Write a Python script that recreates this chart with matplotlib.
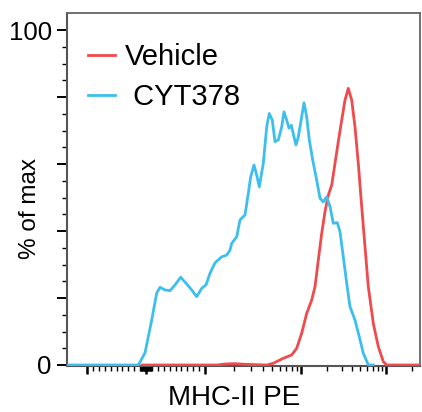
import numpy as np
import matplotlib
matplotlib.use('Agg')
import matplotlib.pyplot as plt

plt.rcParams['font.family'] = ['Liberation Sans', 'DejaVu Sans']

# ---- data (x in display channel units, y in % of max) ----
cyt_x = [0, 71.3, 78, 84.7, 89.7, 93, 98, 103, 108, 113.7, 119.7, 124.7, 129.7, 134.7,
         139, 143, 148, 154.7, 159.7, 163, 164.7, 169.7, 173, 178, 181.3, 183.7, 187,
         189.7, 192.3, 196.3, 199.7, 202.3, 205.3, 208, 211.3, 214.7, 217, 219.7, 222,
         224.3, 227, 229, 231.3, 234.7, 237, 239.7, 242.3, 245.7, 249.7, 253, 256.3,
         259.7, 263, 266.3, 270.3, 273, 276.3, 279.7, 283, 288, 292.3, 296.3, 301.3, 306.3]
cyt_y = [0, 0, 3.6, 13.4, 21.5, 23.2, 22.4, 22.2, 23.9, 26.2, 24.2, 22.4, 20.4, 22.9,
         23.9, 27.4, 30.5, 32.3, 32.8, 34.3, 36.3, 38.3, 43.3, 44.8, 51.3, 56.2, 59.7,
         56.7, 53.2, 60.2, 71.1, 75.1, 73.1, 66.7, 67.2, 71.1, 75.6, 73.1, 70.7,
         71.6, 68.1, 65.7, 68.1, 74.1, 78.3, 74.1, 67.2, 61.2, 55.2, 49.8, 48.7,
         50.2, 47.3, 42.3, 42.5, 39.8, 32.3, 24.4, 17.4, 13.4, 8.4, 3.5, 0, 0]

veh_x = [75, 150, 158, 168, 178, 199.7, 206.3, 216.3, 224.7, 229.7, 234.7, 239.7, 244.7,
         248, 251.3, 254.7, 258, 261.3, 264.7, 268, 271.3, 274.7, 278, 281.3, 284.7,
         288, 291.3, 294.7, 298, 301.3, 306.3, 311.3, 316.3, 319.7, 353]
veh_y = [0, 0, 0.3, 0.4, 0.2, 0, 0.5, 2.0, 3.0, 5.0, 9.5, 15.4, 19.4,
         23.4, 31.3, 39.3, 45.8, 50.7, 53.7, 60.2, 66.7, 73.1, 79.1, 82.6, 79.1,
         71.1, 60.2, 47.3, 35.3, 23.4, 12.4, 5.5, 1.0, 0, 0]

series_labels = ['Vehicle', ' CYT378']
series_colors = ['#f04a4c', '#3dbfee']

x_label = 'MHC-II PE'
y_label = '% of max'
y_major = [0, 20, 40, 60, 80, 100]
y_major_labels = ['0', '', '', '', '', '100']
y_minor = [v for v in range(0, 101, 5) if v % 20]

# fluorescence tick values on the biexponential axis
x_major_vals = [-1000, 0, 1000, 1e4, 1e5]
x_minor_vals = ([-v for v in range(100, 1000, 100)] + list(range(100, 1000, 100)) +
                [-v for v in range(10, 100, 10)] + list(range(10, 100, 10)) +
                [m * 1e3 for m in range(2, 10)] + [m * 1e4 for m in range(2, 10)] + [2e5])


def biex(v):
    v = float(v)
    if v <= 1000:
        return 79 + v * 0.059
    if v <= 1e4:
        return 138 + 96 * np.log10(v / 1000)
    return 234 + 85 * np.log10(v / 1e4)


fig = plt.figure(figsize=(4.22, 4.12), dpi=100)
ax = fig.add_axes([67 / 422, 46 / 412, 353 / 422, 353 / 412])

ax.plot(veh_x, veh_y, color=series_colors[0], lw=2.0, label=series_labels[0],
        solid_joinstyle='round', zorder=3)
ax.plot(cyt_x, cyt_y, color=series_colors[1], lw=2.0, label=series_labels[1],
        solid_joinstyle='round', zorder=3)

ax.set_xlim(0, 353)
ax.set_ylim(-0.3, 105.1)

ax.set_xticks([biex(v) for v in x_major_vals])
ax.set_xticks([biex(v) for v in x_minor_vals], minor=True)
ax.set_xticklabels([])
ax.set_yticks(y_major)
ax.set_yticklabels(y_major_labels, fontsize=18.5)
ax.set_yticks(y_minor, minor=True)

ax.tick_params(axis='x', which='major', length=6, width=1.8, color='black', direction='out')
ax.tick_params(axis='x', which='minor', length=3.5, width=1.0, color='black', direction='out')
ax.tick_params(axis='y', which='major', length=7, width=1.4, color='black', direction='out', pad=4)
ax.tick_params(axis='y', which='minor', length=3.5, width=1.0, color='black', direction='out')

for side in ['left', 'bottom']:
    ax.spines[side].set_color('#555555')
    ax.spines[side].set_linewidth(1.5)
for side in ['top', 'right']:
    ax.spines[side].set_color('#666666')
    ax.spines[side].set_linewidth(1.3)

ax.set_xlabel(x_label, fontsize=20)
ax.xaxis.set_label_coords(0.473, -0.09)
ax.xaxis.label.set_va('center')
ax.set_ylabel(y_label, fontsize=17.5)
ax.yaxis.set_label_coords(-0.105, 0.445)
ax.yaxis.label.set_va('center')

leg = ax.legend(loc='upper left', bbox_to_anchor=(0.06, 0.914), frameon=False,
                fontsize=21, handlelength=0.92, handletextpad=0.34, borderpad=0,
                borderaxespad=0, labelspacing=0.40)

fig.savefig('out.png', dpi=100)
